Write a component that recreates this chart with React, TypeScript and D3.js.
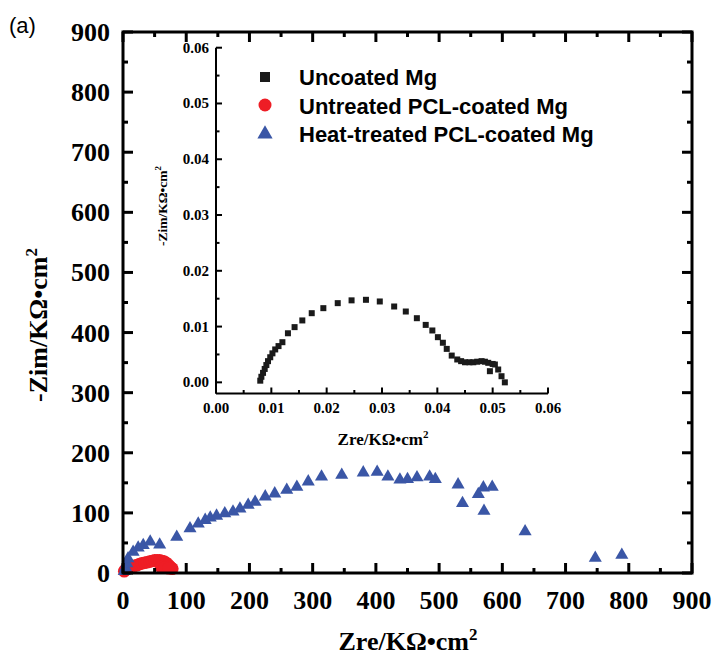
import React from "react";
import * as d3 from "d3";

// heat-treated PCL-coated Mg (main plot, KΩ·cm²)
const heatZre = [2, 4, 6, 8, 16, 24, 32, 43, 58, 85, 106, 119, 130, 138, 148, 161, 174, 185, 198, 209, 225, 240, 259, 275, 293, 314, 346, 380, 402, 419, 438, 450, 465, 485, 494, 530, 537, 562, 570, 584, 571, 636, 747, 789];
const heatZim = [3, 9, 16, 24, 35, 42, 46, 52, 47, 60, 74, 82, 88, 92, 95, 99, 102, 107, 113, 118, 127, 132, 138, 143, 152, 160, 163, 167, 168, 160, 155, 156, 159, 160, 156, 147, 116, 131, 142, 143, 103, 69, 25, 30];

// untreated PCL-coated Mg
const untreatedZre = [2, 4, 7, 10, 14, 18, 22, 26, 30, 34, 38, 42, 46, 50, 54, 58, 62, 65, 68, 70, 72, 74, 76, 78, 60, 66, 72];
const untreatedZim = [3, 6, 9, 11, 12, 12, 13, 15, 16, 17, 18, 19, 20, 21, 21, 21, 20, 19, 17, 15, 13, 11, 9, 7, 10, 9, 8];

// uncoated Mg (inset)
const uncoatedZre = [0.0080, 0.0082, 0.0085, 0.0088, 0.0091, 0.0094, 0.0098, 0.0102, 0.0107, 0.0113, 0.0120, 0.0130, 0.0142, 0.0156, 0.0173, 0.0194, 0.0220, 0.0245, 0.0271, 0.0296, 0.0322, 0.0343, 0.0363, 0.0379, 0.0391, 0.0401, 0.0410, 0.0417, 0.0426, 0.0436, 0.0443, 0.0450, 0.0458, 0.0465, 0.0472, 0.0480, 0.0486, 0.0492, 0.0495, 0.0500, 0.0504, 0.0510, 0.0516, 0.0522];
const uncoatedZim = [0.0003, 0.0010, 0.0017, 0.0024, 0.0031, 0.0038, 0.0045, 0.0052, 0.0059, 0.0065, 0.0072, 0.0088, 0.0099, 0.0111, 0.0124, 0.0133, 0.0142, 0.0147, 0.0148, 0.0145, 0.0136, 0.0127, 0.0115, 0.0103, 0.0093, 0.0081, 0.0071, 0.0060, 0.0048, 0.0041, 0.0038, 0.0036, 0.0036, 0.0036, 0.0037, 0.0038, 0.0037, 0.0035, 0.0020, 0.0033, 0.0032, 0.0023, 0.0011, 0.0000];

const mainTicks = [0, 100, 200, 300, 400, 500, 600, 700, 800, 900];
const mainMinor = [50, 150, 250, 350, 450, 550, 650, 750, 850];
const insetTicks = [0, 0.01, 0.02, 0.03, 0.04, 0.05, 0.06];
const insetMinor = [0.005, 0.015, 0.025, 0.035, 0.045, 0.055];
const legendLabels = ["Uncoated Mg", "Untreated PCL-coated Mg", "Heat-treated PCL-coated Mg"];

const BLUE = "#3a56a6";
const RED = "#ee1d25";
const BLACK = "#1a1a1a";
const serif = "'Liberation Serif', 'Times New Roman', serif";
const sans = "'Liberation Sans', Arial, sans-serif";

export default function App() {
  const x = d3.scaleLinear().domain([0, 900]).range([123, 692]);
  const y = d3.scaleLinear().domain([0, 900]).range([573, 32]);
  const ix = d3.scaleLinear().domain([0, 0.06]).range([216, 548]);
  const iy = d3.scaleLinear().domain([-0.002, 0.06]).range([393.5, 47.7]);

  const tri = d3.symbol().type(d3.symbolTriangle).size(74)();
  const triLegend = d3.symbol().type(d3.symbolTriangle).size(100)();

  const [x0, x1] = x.range();
  const [y0, y1] = y.range();

  return (
    <svg width={715} height={658} style={{ position: "absolute", left: 0, top: 0 }}>
      <rect width={715} height={658} fill="white" />
      <text x={9} y={33} fontFamily={sans} fontSize={22}>(a)</text>

      {/* main data */}
      {untreatedZre.map((v, i) => (
        <circle key={"r" + i} cx={x(v)} cy={y(untreatedZim[i])} r={6.3} fill={RED} />
      ))}
      {heatZre.map((v, i) => (
        <path key={"b" + i} d={tri} transform={`translate(${x(v)},${y(heatZim[i])})`} fill={BLUE} />
      ))}

      {/* main frame + ticks */}
      <rect x={x0} y={y1} width={x1 - x0} height={y0 - y1} fill="none" stroke="black" strokeWidth={3} />
      {mainTicks.map((t) => (
        <g key={"mt" + t} stroke="black" strokeWidth={3}>
          <line x1={x(t)} x2={x(t)} y1={y0} y2={y0 - 10} />
          <line x1={x(t)} x2={x(t)} y1={y1} y2={y1 + 10} />
          <line x1={x0} x2={x0 + 10} y1={y(t)} y2={y(t)} />
          <line x1={x1} x2={x1 - 10} y1={y(t)} y2={y(t)} />
        </g>
      ))}
      {mainMinor.map((t) => (
        <g key={"mm" + t} stroke="black" strokeWidth={3}>
          <line x1={x(t)} x2={x(t)} y1={y0} y2={y0 - 5} />
          <line x1={x(t)} x2={x(t)} y1={y1} y2={y1 + 5} />
          <line x1={x0} x2={x0 + 5} y1={y(t)} y2={y(t)} />
          <line x1={x1} x2={x1 - 5} y1={y(t)} y2={y(t)} />
        </g>
      ))}
      {mainTicks.map((t) => (
        <text key={"xl" + t} x={x(t)} y={609} textAnchor="middle" fontFamily={serif} fontWeight="bold" fontSize={26}>{t}</text>
      ))}
      {mainTicks.map((t) => (
        <text key={"yl" + t} x={110} y={y(t) + 9} textAnchor="end" fontFamily={serif} fontWeight="bold" fontSize={26}>{t}</text>
      ))}
      <text x={408} y={650} textAnchor="middle" fontFamily={serif} fontWeight="bold" fontSize={26}>
        Zre/KΩ•cm<tspan dy={-10} fontSize={17}>2</tspan>
      </text>
      <text transform="translate(47,325) rotate(-90)" textAnchor="middle" fontFamily={serif} fontWeight="bold" fontSize={26}>
        -Zim/KΩ•cm<tspan dy={-10} fontSize={17}>2</tspan>
      </text>

      {/* inset */}
      {uncoatedZre.map((v, i) => (
        <rect key={"s" + i} x={ix(v) - 3} y={iy(uncoatedZim[i]) - 3} width={6} height={6} fill={BLACK} />
      ))}
      <g stroke="black" strokeWidth={2}>
        <line x1={ix(0)} x2={ix(0)} y1={iy(-0.002)} y2={iy(0.06)} />
        <line x1={ix(0)} x2={ix(0.06)} y1={iy(-0.002)} y2={iy(-0.002)} />
        {insetTicks.map((t) => (
          <g key={"it" + t}>
            <line x1={ix(t)} x2={ix(t)} y1={iy(-0.002)} y2={iy(-0.002) - 6} />
            <line x1={ix(0)} x2={ix(0) + 6} y1={iy(t)} y2={iy(t)} />
          </g>
        ))}
        {insetMinor.map((t) => (
          <g key={"im" + t}>
            <line x1={ix(t)} x2={ix(t)} y1={iy(-0.002)} y2={iy(-0.002) - 3.5} />
            <line x1={ix(0)} x2={ix(0) + 3.5} y1={iy(t)} y2={iy(t)} />
          </g>
        ))}
      </g>
      {insetTicks.map((t) => (
        <text key={"ixl" + t} x={ix(t)} y={413} textAnchor="middle" fontFamily={serif} fontWeight="bold" fontSize={15}>{d3.format(".2f")(t)}</text>
      ))}
      {insetTicks.map((t) => (
        <text key={"iyl" + t} x={209} y={iy(t) + 5} textAnchor="end" fontFamily={serif} fontWeight="bold" fontSize={15}>{d3.format(".2f")(t)}</text>
      ))}
      <text x={383} y={445} textAnchor="middle" fontFamily={serif} fontWeight="bold" fontSize={17}>
        Zre/KΩ•cm<tspan dy={-7} fontSize={11}>2</tspan>
      </text>
      <text transform="translate(167,206) rotate(-90)" textAnchor="middle" fontFamily={serif} fontWeight="bold" fontSize={13.5}>
        -Zim/KΩ•cm<tspan dy={-6} fontSize={9}>2</tspan>
      </text>

      {/* legend */}
      <rect x={260} y={72} width={10} height={10} fill={BLACK} />
      <circle cx={265} cy={105} r={6.5} fill={RED} />
      <path d={triLegend} transform="translate(265,134)" fill={BLUE} />
      {legendLabels.map((l, i) => (
        <text key={l} x={299} y={85 + i * 28.5} fontFamily={sans} fontWeight="bold" fontSize={22}>{l}</text>
      ))}
    </svg>
  );
}
